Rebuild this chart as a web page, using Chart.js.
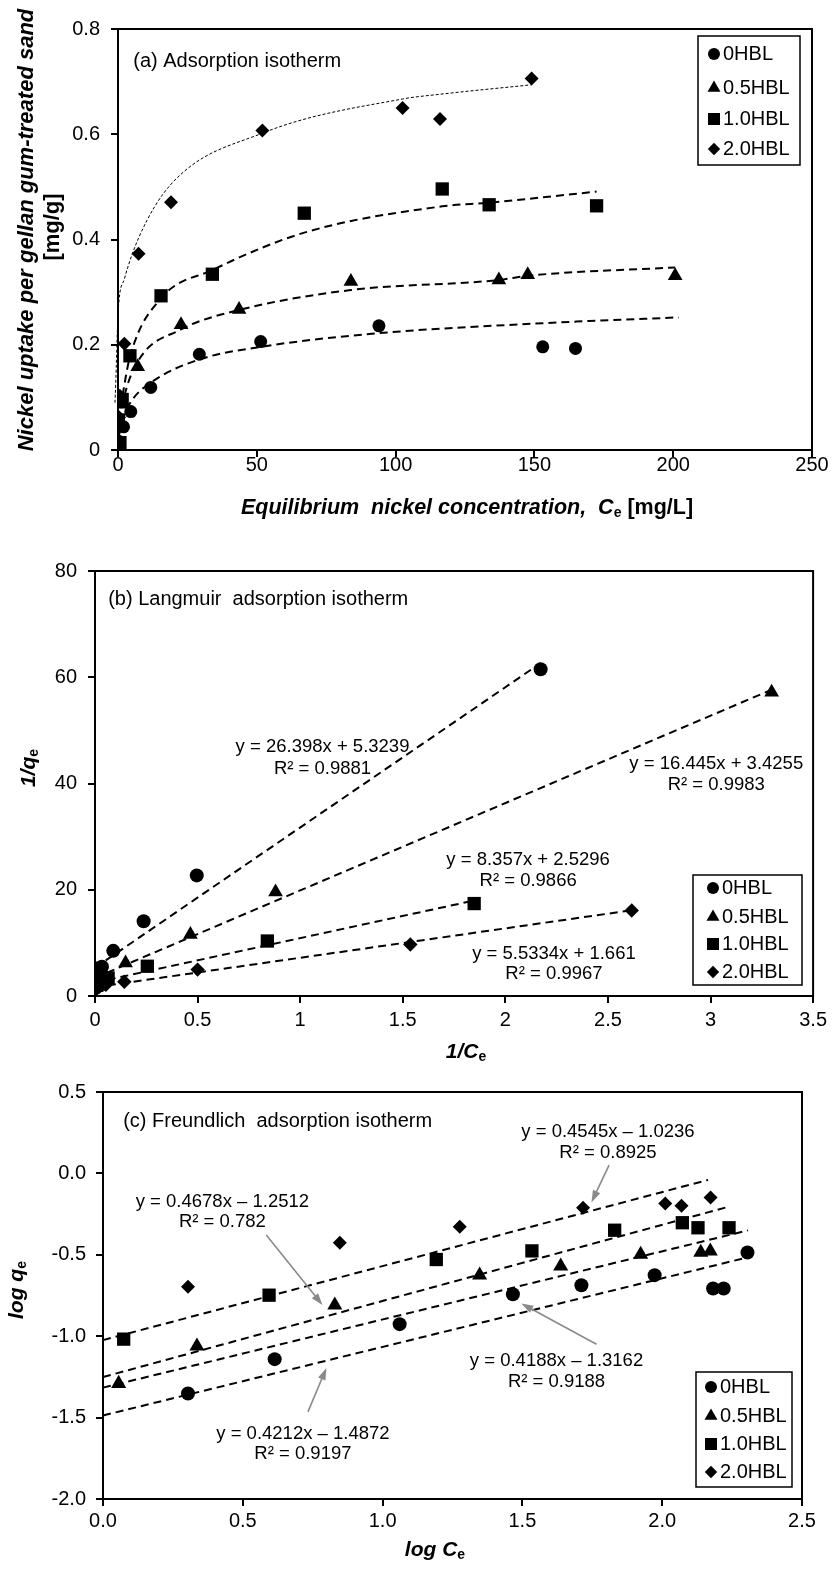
<!DOCTYPE html>
<html>
<head>
<meta charset="utf-8">
<script src="https://cdn.jsdelivr.net/npm/chart.js@4.4.1/dist/chart.umd.min.js"></script>
<style>
  body { margin: 0; background: #fff; }
  #wrap { position: relative; width: 834px; height: 1587px; }
  canvas { position: absolute; left: 0; }
</style>
</head>
<body>
<div id="wrap">
  <canvas id="chartA" width="834" height="525" style="top:0px"></canvas>
  <canvas id="chartB" width="834" height="550" style="top:520px"></canvas>
  <canvas id="chartC" width="834" height="542" style="top:1045px"></canvas>
</div>
<script>
const FAM = '"Liberation Sans", Arial, Helvetica, sans-serif';
Chart.defaults.font.family = FAM;

const seriesNames = ['0HBL', '0.5HBL', '1.0HBL', '2.0HBL'];
const markerStyles = ['circle', 'triangle', 'rect', 'rectRot'];

// (a) adsorption isotherm, Ce [mg/L] vs q [mg/g]
const isoCe0 = [0.46, 2.0, 4.6, 11.8, 29.3, 51.4, 94, 153, 164.8];
const isoQ0  = [0.016, 0.044, 0.073, 0.119, 0.182, 0.206, 0.236, 0.196, 0.193];
const isoCe1 = [0.30, 1.14, 2.17, 7.1, 22.7, 43.6, 83.9, 137.2, 147.6, 200.7];
const isoQ1  = [0.017, 0.051, 0.087, 0.158, 0.238, 0.267, 0.320, 0.323, 0.333, 0.331];
const isoCe2 = [0.1, 0.7, 1.5, 4.3, 15.5, 34, 67.1, 116.8, 133.7, 172.4];
const isoQ2  = [0.057, 0.014, 0.096, 0.179, 0.293, 0.334, 0.450, 0.496, 0.466, 0.464];
const isoCe3 = [0.38, 0.65, 2.3, 7.4, 19.1, 52, 102.5, 116, 149];
const isoQ3  = [0.062, 0.103, 0.202, 0.373, 0.471, 0.607, 0.650, 0.629, 0.706];

// (a) model curves
const curveCe0 = [0.46, 2.0, 4.7, 11.8, 29.3, 51.4, 94, 153, 165, 202];
const curveQ0  = [0.03, 0.062, 0.092, 0.128, 0.172, 0.196, 0.222, 0.241, 0.244, 0.252];
const curveCe1 = [0.3, 1.14, 2.17, 7.1, 22.7, 43.6, 83.9, 137.2, 147.6, 200.7];
const curveQ1  = [0.03, 0.07, 0.10, 0.168, 0.229, 0.266, 0.304, 0.323, 0.331, 0.347];
const curveCe2 = [0.1, 0.7, 1.7, 4.3, 15.5, 34, 67.1, 116.8, 133.7, 172.4];
const curveQ2  = [0.03, 0.07, 0.105, 0.177, 0.288, 0.342, 0.413, 0.463, 0.470, 0.491];
const curveCe3 = [-2.9, -1.1, 0.1, 2.3, 7.6, 19.1, 52, 102.5, 116, 149];
const curveQ3  = [0.019, 0.09, 0.266, 0.325, 0.405, 0.505, 0.602, 0.667, 0.676, 0.694];

// (b) Langmuir, 1/Ce vs 1/qe
const invCe0 = [2.172, 0.496, 0.237, 0.089, 0.034, 0.0195, 0.0106, 0.0066, 0.006, 0.005];
const invQ0  = [61.5, 22.7, 14.06, 8.5, 5.5, 4.85, 4.24, 5.1, 5.2, 3.06];
const invCe1 = [3.298, 0.88, 0.465, 0.149, 0.045, 0.023, 0.012, 0.0073, 0.0067, 0.005];
const invQ1  = [57.2, 19.6, 11.6, 6.2, 4.2, 3.7, 3.15, 3.06, 3.0, 3.0];
const invCe2 = [1.848, 0.84, 0.255, 0.064, 0.029, 0.0148, 0.0085, 0.0075, 0.0058];
const invQ2  = [17.4, 10.35, 5.6, 3.4, 3.0, 2.23, 2.0, 2.16, 2.16];
const invCe3 = [2.616, 1.537, 0.5, 0.143, 0.053, 0.019, 0.0097, 0.0085, 0.0067];
const invQ3  = [16.1, 9.7, 4.97, 2.67, 2.13, 1.63, 1.53, 1.58, 1.41];
const langLineX = [[0, 2.172], [0, 3.298], [0, 1.848], [0, 2.616]];
const langLineY = [[5.32, 62.66], [3.43, 57.66], [2.53, 17.97], [1.66, 16.14]];
const langEq = ['y = 26.398x + 5.3239', 'y = 16.445x + 3.4255', 'y = 8.357x + 2.5296', 'y = 5.5334x + 1.661'];
const langR2 = ['R² = 0.9881', 'R² = 0.9983', 'R² = 0.9866', 'R² = 0.9967'];

// (c) Freundlich, log Ce vs log qe
const logCe0 = [0.304, 0.614, 1.061, 1.466, 1.711, 1.973, 2.182, 2.220, 2.305];
const logQ0  = [-1.352, -1.141, -0.926, -0.742, -0.687, -0.625, -0.707, -0.707, -0.486];
const logCe1 = [0.056, 0.336, 0.829, 1.347, 1.637, 1.923, 2.138, 2.172];
const logQ1  = [-1.291, -1.061, -0.809, -0.625, -0.570, -0.498, -0.486, -0.478];
const logCe2 = [0.074, 0.594, 1.192, 1.534, 1.830, 2.072, 2.128, 2.239];
const logQ2  = [-1.018, -0.748, -0.529, -0.476, -0.349, -0.303, -0.334, -0.334];
const logCe3 = [0.304, 0.847, 1.276, 1.717, 2.011, 2.069, 2.173];
const logQ3  = [-0.697, -0.426, -0.328, -0.211, -0.185, -0.199, -0.148];
const freLineX = [[0, 2.305], [0, 2.307], [0, 2.233], [0, 2.164]];
const freLineY = [[-1.487, -0.516], [-1.316, -0.350], [-1.251, -0.207], [-1.024, -0.040]];
const freEq = ['y = 0.4212x – 1.4872', 'y = 0.4188x – 1.3162', 'y = 0.4678x – 1.2512', 'y = 0.4545x – 1.0236'];
const freR2 = ['R² = 0.9197', 'R² = 0.9188', 'R² = 0.782', 'R² = 0.8925'];

// ---------- helpers
function xy(xs, ys) { return xs.map((x, i) => ({ x: x, y: ys[i] })); }

function pts(xs, ys, i, r) {
  return {
    label: seriesNames[i], data: xy(xs, ys), showLine: false,
    pointStyle: markerStyles[i], pointRadius: r, pointHoverRadius: r,
    backgroundColor: '#000', borderColor: '#000', borderWidth: 0, order: 4 - i
  };
}

function line(xs, ys, dash, w, smooth) {
  return {
    data: xy(xs, ys), showLine: true, pointRadius: 0, pointHoverRadius: 0,
    borderColor: '#000', borderWidth: w, borderDash: dash, fill: false,
    tension: 0, cubicInterpolationMode: smooth ? 'monotone' : 'default', clip: false, order: 10
  };
}

function axis(min, max, step, pad, fmt) {
  return {
    type: 'linear', min: min, max: max,
    ticks: { stepSize: step, padding: pad, color: '#000', font: { size: 20, lineHeight: 1 }, callback: fmt },
    grid: { drawOnChartArea: false, drawTicks: true, tickLength: 7, color: '#000', lineWidth: 2 },
    border: { display: true, color: '#000', width: 2 }
  };
}

const plainNum = v => String(Number(v.toFixed(3)));
const oneDec = v => v.toFixed(1);

function drawMarker(ctx, style, r, x, y) {
  ctx.beginPath();
  if (style === 'circle') {
    ctx.arc(x, y, r, 0, Math.PI * 2);
  } else if (style === 'triangle') {
    ctx.moveTo(x, y - r); ctx.lineTo(x + r * 0.866, y + r * 0.5); ctx.lineTo(x - r * 0.866, y + r * 0.5); ctx.closePath();
  } else if (style === 'rect') {
    const s = r * Math.SQRT1_2; ctx.rect(x - s, y - s, 2 * s, 2 * s);
  } else {
    ctx.moveTo(x, y - r); ctx.lineTo(x + r, y); ctx.lineTo(x, y + r); ctx.lineTo(x - r, y); ctx.closePath();
  }
  ctx.fill();
}

function richText(ctx, parts, x, y, rot) {
  ctx.save();
  ctx.translate(x, y);
  if (rot) ctx.rotate(-Math.PI / 2);
  let w = 0;
  parts.forEach(p => { ctx.font = p.f; p.w = ctx.measureText(p.t).width; w += p.w; });
  let cx = -w / 2;
  ctx.textBaseline = 'middle'; ctx.textAlign = 'left'; ctx.fillStyle = '#000';
  parts.forEach(p => { ctx.font = p.f; ctx.fillText(p.t, cx, p.dy || 0); cx += p.w; });
  ctx.restore();
}

const BI = s => 'italic bold ' + s + 'px ' + FAM;
const B = s => 'bold ' + s + 'px ' + FAM;
const N = s => s + 'px ' + FAM;

const extras = {
  id: 'extras',
  afterDraw(chart, args, o) {
    const ctx = chart.ctx, a = chart.chartArea, xs = chart.scales.x, ys = chart.scales.y;
    ctx.save();
    ctx.strokeStyle = '#000'; ctx.lineWidth = 2;
    ctx.strokeRect(a.left, a.top, a.right - a.left, a.bottom - a.top);

    (o.arrows || []).forEach(ar => {
      const x1 = xs.getPixelForValue(ar[0]), y1 = ys.getPixelForValue(ar[1]);
      const x2 = xs.getPixelForValue(ar[2]), y2 = ys.getPixelForValue(ar[3]);
      const ang = Math.atan2(y2 - y1, x2 - x1), hl = 12, hw = 4;
      ctx.strokeStyle = '#8a8a8a'; ctx.fillStyle = '#8a8a8a'; ctx.lineWidth = 1.6;
      ctx.beginPath(); ctx.moveTo(x1, y1);
      ctx.lineTo(x2 - Math.cos(ang) * hl * 0.8, y2 - Math.sin(ang) * hl * 0.8); ctx.stroke();
      ctx.beginPath(); ctx.moveTo(x2, y2);
      ctx.lineTo(x2 - Math.cos(ang) * hl + Math.sin(ang) * hw, y2 - Math.sin(ang) * hl - Math.cos(ang) * hw);
      ctx.lineTo(x2 - Math.cos(ang) * hl - Math.sin(ang) * hw, y2 - Math.sin(ang) * hl + Math.cos(ang) * hw);
      ctx.closePath(); ctx.fill();
    });

    ctx.fillStyle = '#000'; ctx.textBaseline = 'middle';
    (o.texts || []).forEach(t => {
      ctx.font = t.font; ctx.textAlign = t.align || 'center';
      ctx.fillText(t.text, xs.getPixelForValue(t.x), ys.getPixelForValue(t.y));
    });

    const lg = o.legend;
    ctx.strokeStyle = '#000'; ctx.lineWidth = 1.5;
    ctx.strokeRect(lg.box[0], lg.box[1], lg.box[2], lg.box[3]);
    lg.rows.forEach((ry, i) => {
      ctx.fillStyle = '#000';
      drawMarker(ctx, markerStyles[i], lg.radii[i], lg.mx, ry);
      ctx.font = N(20); ctx.textAlign = 'left';
      ctx.fillText(seriesNames[i], lg.tx, ry);
    });

    (o.titles || []).forEach(t => richText(ctx, t.parts, t.x, t.y, t.rot));
    ctx.restore();
  }
};

function makeChart(id, datasets, sx, sy, geo, extra) {
  sx.afterFit = s => { s.height = geo.xH; };
  sy.afterFit = s => { s.width = geo.yW; };
  return new Chart(document.getElementById(id), {
    type: 'scatter',
    data: { datasets: datasets },
    options: {
      responsive: false, animation: false, events: [],
      layout: { padding: { top: geo.top, right: geo.right, left: 0, bottom: 0 } },
      scales: { x: sx, y: sy },
      plugins: { legend: { display: false }, tooltip: { enabled: false }, extras: extra }
    },
    plugins: [extras]
  });
}

const legendRadii = [6, 7.5, 8.5, 6.2];

// ---------- (a)
const radA = [6.5, 8.5, 9.4, 7];
makeChart('chartA', [
  pts(isoCe0, isoQ0, 0, radA[0]), pts(isoCe1, isoQ1, 1, radA[1]),
  pts(isoCe2, isoQ2, 2, radA[2]), pts(isoCe3, isoQ3, 3, radA[3]),
  line(curveCe0, curveQ0, [8, 5], 2, true), line(curveCe1, curveQ1, [8, 5], 2, true),
  line(curveCe2, curveQ2, [8, 5], 2, true), line(curveCe3, curveQ3, [3, 2], 1, true)
], axis(0, 250, 50, -1.5, plainNum), axis(0, 0.8, 0.2, 11, plainNum),
{ top: 29, right: 22, xH: 75, yW: 118 },
{
  texts: [{ text: '(a) Adsorption isotherm', x: 5.5, y: 0.738, align: 'left', font: N(20) }],
  legend: { box: [698, 36, 102, 129], mx: 714, tx: 723, rows: [54, 88, 119, 149], radii: legendRadii },
  titles: [
    { x: 467, y: 508, parts: [
      { t: 'Equilibrium  nickel concentration,  C', f: BI(21.5) },
      { t: 'e', f: B(14), dy: 5 },
      { t: ' [mg/L]', f: B(21.5) }] },
    { x: 27, y: 230, rot: true, parts: [{ t: 'Nickel uptake per gellan gum-treated sand', f: BI(22) }] },
    { x: 53, y: 227, rot: true, parts: [{ t: '[mg/g]', f: B(22) }] }
  ]
});

// ---------- (b)
const radB = [7, 8.5, 9.4, 7.2];
makeChart('chartB', [
  pts(invCe0, invQ0, 0, radB[0]), pts(invCe1, invQ1, 1, radB[1]),
  pts(invCe2, invQ2, 2, radB[2]), pts(invCe3, invQ3, 3, radB[3]),
  line(langLineX[0], langLineY[0], [8, 5], 2, false), line(langLineX[1], langLineY[1], [8, 5], 2, false),
  line(langLineX[2], langLineY[2], [8, 5], 2, false), line(langLineX[3], langLineY[3], [8, 5], 2, false)
], axis(0, 3.5, 0.5, 7, plainNum), axis(0, 80, 20, 11, plainNum),
{ top: 51, right: 16, xH: 74, yW: 95 },
{
  texts: [
    { text: '(b) Langmuir  adsorption isotherm', x: 0.064, y: 74.6, align: 'left', font: N(20) },
    { text: langEq[0], x: 1.109, y: 46.9, font: N(18.5) }, { text: langR2[0], x: 1.109, y: 42.8, font: N(18.5) },
    { text: langEq[1], x: 3.028, y: 43.7, font: N(18.5) }, { text: langR2[1], x: 3.028, y: 39.7, font: N(18.5) },
    { text: langEq[2], x: 2.111, y: 25.7, font: N(18.5) }, { text: langR2[2], x: 2.111, y: 21.6, font: N(18.5) },
    { text: langEq[3], x: 2.237, y: 8.0, font: N(18.5) }, { text: langR2[3], x: 2.237, y: 4.1, font: N(18.5) }
  ],
  legend: { box: [693, 355, 109, 110], mx: 713, tx: 722, rows: [368, 397, 424, 452], radii: legendRadii },
  titles: [
    { x: 466, y: 532, parts: [{ t: '1/C', f: BI(21) }, { t: 'e', f: B(14), dy: 5 }] },
    { x: 29, y: 248, rot: true, parts: [{ t: '1/q', f: BI(21) }, { t: 'e', f: B(14), dy: 5 }] }
  ]
});

// ---------- (c)
const radC = [7, 8.7, 9.4, 7];
makeChart('chartC', [
  pts(logCe0, logQ0, 0, radC[0]), pts(logCe1, logQ1, 1, radC[1]),
  pts(logCe2, logQ2, 2, radC[2]), pts(logCe3, logQ3, 3, radC[3]),
  line(freLineX[0], freLineY[0], [8, 5], 2, false), line(freLineX[1], freLineY[1], [8, 5], 2, false),
  line(freLineX[2], freLineY[2], [8, 5], 2, false), line(freLineX[3], freLineY[3], [8, 5], 2, false)
], axis(0, 2.5, 0.5, 5.5, oneDec), axis(-2, 0.5, 0.5, 10, oneDec),
{ top: 47, right: 32, xH: 88, yW: 103 },
{
  texts: [
    { text: '(c) Freundlich  adsorption isotherm', x: 0.072, y: 0.321, align: 'left', font: N(20) },
    { text: freEq[3], x: 1.806, y: 0.256, font: N(18.5) }, { text: freR2[3], x: 1.806, y: 0.127, font: N(18.5) },
    { text: freEq[2], x: 0.427, y: -0.175, font: N(18.5) }, { text: freR2[2], x: 0.427, y: -0.301, font: N(18.5) },
    { text: freEq[1], x: 1.622, y: -1.152, font: N(18.5) }, { text: freR2[1], x: 1.622, y: -1.281, font: N(18.5) },
    { text: freEq[0], x: 0.715, y: -1.598, font: N(18.5) }, { text: freR2[0], x: 0.715, y: -1.721, font: N(18.5) }
  ],
  arrows: [
    [1.810, 0.051, 1.747, -0.178],
    [0.584, -0.379, 0.785, -0.809],
    [1.765, -1.049, 1.496, -0.799],
    [0.733, -1.465, 0.799, -1.195]
  ],
  legend: { box: [696, 327, 96, 115], mx: 711, tx: 720, rows: [342, 371, 399, 427], radii: legendRadii },
  titles: [
    { x: 435, y: 505, parts: [{ t: 'log C', f: BI(21) }, { t: 'e', f: B(14), dy: 5 }] },
    { x: 17, y: 245, rot: true, parts: [{ t: 'log q', f: BI(21) }, { t: 'e', f: B(14), dy: 5 }] }
  ]
});
</script>
</body>
</html>
